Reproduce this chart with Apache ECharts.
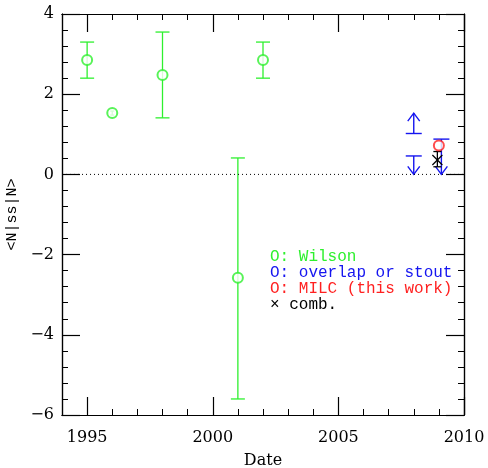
<!DOCTYPE html>
<html>
<head>
<meta charset="utf-8">
<script src="https://cdn.jsdelivr.net/npm/echarts@6/dist/echarts.min.js"></script>
<style>
  html, body { margin: 0; padding: 0; background: #fff; }
  #chart { width: 488px; height: 468px; }
</style>
</head>
<body>
<div id="chart"></div>
<script>
// Wilson points (year, value, lower, upper)
const wilsonYear = [1995, 1996, 1998, 2001, 2002];
const wilsonVal = [2.85, 1.53, 2.48, -2.58, 2.85];
const wilsonLo = [2.40, 1.48, 1.41, -5.60, 2.40];
const wilsonHi = [3.30, 1.58, 3.55, 0.41, 3.30];

// overlap / stout limits: bar value and arrow tip
const blueYear = [2008, 2008, 2009.1];
const blueBar = [1.02, 0.46, 0.88];
const blueTip = [1.53, 0.0, 0.0];

// MILC (this work)
const milcYear = [2009];
const milcVal = [0.72];

// combined
const combYear = [2008.94];
const combVal = [0.36];
const combLo = [0.19];
const combHi = [0.57];

const xMajor = [1995, 2000, 2005, 2010];
const yMajor = [-6, -4, -2, 0, 2, 4];

const legendText = ['O: Wilson', 'O: overlap or stout', 'O: MILC (this work)', '\u00d7 comb.'];

const GREEN = '#2ef02e', BLUE = '#1515f0', RED = '#ff2020';
const legendColor = [GREEN, BLUE, RED, '#000'];
const FONT = 'DejaVu Serif';

const chart = echarts.init(document.getElementById('chart'));

function errBar(color, capW) {
  return function (params, api) {
    const x = api.value(0);
    const pLo = api.coord([x, api.value(1)]);
    const pHi = api.coord([x, api.value(2)]);
    // very short bars get small caps so they stay inside the marker
    const w = Math.abs(pLo[1] - pHi[1]) < 8 ? 2 : capW;
    const st = { stroke: color, lineWidth: 1.3 };
    return {
      type: 'group',
      children: [
        { type: 'line', shape: { x1: pLo[0], y1: pLo[1], x2: pHi[0], y2: pHi[1] }, style: st },
        { type: 'line', shape: { x1: pLo[0] - w, y1: pLo[1], x2: pLo[0] + w, y2: pLo[1] }, style: st },
        { type: 'line', shape: { x1: pHi[0] - w, y1: pHi[1], x2: pHi[0] + w, y2: pHi[1] }, style: st }
      ]
    };
  };
}

function limitArrow(params, api) {
  const x = api.value(0);
  const pb = api.coord([x, api.value(1)]);
  const pt = api.coord([x, api.value(2)]);
  const dir = pt[1] < pb[1] ? 1 : -1; // 1: arrow points up
  const st = { stroke: BLUE, lineWidth: 1.4, fill: null };
  return {
    type: 'group',
    children: [
      { type: 'line', shape: { x1: pb[0], y1: pb[1], x2: pt[0], y2: pt[1] }, style: st },
      { type: 'line', shape: { x1: pb[0] - 8, y1: pb[1], x2: pb[0] + 8, y2: pb[1] }, style: st },
      { type: 'polyline', shape: { points: [[pt[0] - 6, pt[1] + dir * 8], [pt[0], pt[1]], [pt[0] + 6, pt[1] + dir * 8]] }, style: st }
    ]
  };
}

function cross(params, api) {
  const p = api.coord([api.value(0), api.value(1)]);
  const s = 5;
  const st = { stroke: '#000', lineWidth: 1.2 };
  return {
    type: 'group',
    children: [
      { type: 'line', shape: { x1: p[0] - s, y1: p[1] - s, x2: p[0] + s, y2: p[1] + s }, style: st },
      { type: 'line', shape: { x1: p[0] - s, y1: p[1] + s, x2: p[0] + s, y2: p[1] - s }, style: st }
    ]
  };
}

const axisLine = { show: true, onZero: false, lineStyle: { color: '#000', width: 1.2 } };
const labelStyle = { fontFamily: FONT, fontSize: 16, color: '#000' };

function xAxisDef(pos, major, showLabel) {
  return {
    type: 'value', min: 1994, max: 2010, interval: 1, position: pos, gridIndex: 0,
    axisLine: axisLine,
    splitLine: { show: false },
    axisTick: major
      ? { show: true, inside: true, length: 18, customValues: xMajor, lineStyle: { color: '#000', width: 1.2 } }
      : { show: true, inside: true, length: 6, lineStyle: { color: '#000', width: 1 } },
    axisLabel: showLabel
      ? Object.assign({ show: true, margin: 15, customValues: xMajor, formatter: v => String(v) }, labelStyle)
      : { show: false },
    name: showLabel ? 'Date' : '',
    nameLocation: 'middle', nameGap: 38,
    nameTextStyle: labelStyle
  };
}

function yAxisDef(pos, major, showLabel) {
  return {
    type: 'value', min: -6, max: 4, interval: major ? 2 : 0.4, position: pos, gridIndex: 0,
    axisLine: axisLine,
    splitLine: { show: false },
    axisTick: major
      ? { show: true, inside: true, length: 18, lineStyle: { color: '#000', width: 1.2 } }
      : { show: true, inside: true, length: 6, lineStyle: { color: '#000', width: 1 } },
    axisLabel: showLabel
      ? Object.assign({ show: true, margin: 8, customValues: yMajor,
          formatter: v => String(v).replace('-', '\u2212') }, labelStyle)
      : { show: false },
    name: showLabel ? '<N|ss|N>' : '',
    nameLocation: 'middle', nameGap: 34, nameRotate: 90,
    nameTextStyle: { fontFamily: 'Liberation Mono', fontSize: 15, color: '#000' }
  };
}

chart.setOption({
  animation: false,
  backgroundColor: '#fff',
  grid: { left: 62, right: 24, top: 14, bottom: 53, outerBoundsMode: 'none', containLabel: false },
  xAxis: [
    xAxisDef('bottom', true, true),
    xAxisDef('bottom', false, false),
    xAxisDef('top', true, false),
    xAxisDef('top', false, false)
  ],
  yAxis: [
    yAxisDef('left', true, true),
    yAxisDef('left', false, false),
    yAxisDef('right', true, false),
    yAxisDef('right', false, false)
  ],
  graphic: legendText.map((t, i) => ({
    type: 'text', left: 270, top: 249 + i * 16,
    style: { text: t, fill: legendColor[i], font: '16px "Liberation Mono"' }
  })),
  series: [
    {
      type: 'line', name: 'zero', silent: true, symbol: 'none',
      data: [[1994, 0], [2010, 0]],
      lineStyle: { color: '#000', width: 1, type: [1, 3] }
    },
    {
      type: 'custom', name: 'Wilson err', renderItem: errBar(GREEN, 7),
      data: wilsonYear.map((y, i) => [y, wilsonLo[i], wilsonHi[i]])
    },
    {
      type: 'scatter', name: 'Wilson', symbol: 'emptyCircle', symbolSize: 10,
      itemStyle: { color: GREEN, borderColor: GREEN, borderWidth: 1.3 },
      data: wilsonYear.map((y, i) => [y, wilsonVal[i]])
    },
    {
      type: 'custom', name: 'overlap or stout', renderItem: limitArrow,
      data: blueYear.map((y, i) => [y, blueBar[i], blueTip[i]])
    },
    {
      type: 'scatter', name: 'MILC', symbol: 'emptyCircle', symbolSize: 10,
      itemStyle: { color: RED, borderColor: RED, borderWidth: 1.3 },
      data: milcYear.map((y, i) => [y, milcVal[i]])
    },
    {
      type: 'custom', name: 'comb err', renderItem: errBar('#000', 4),
      data: combYear.map((y, i) => [y, combLo[i], combHi[i]])
    },
    {
      type: 'custom', name: 'comb', renderItem: cross,
      data: combYear.map((y, i) => [y, combVal[i]])
    }
  ]
});
</script>
</body>
</html>
